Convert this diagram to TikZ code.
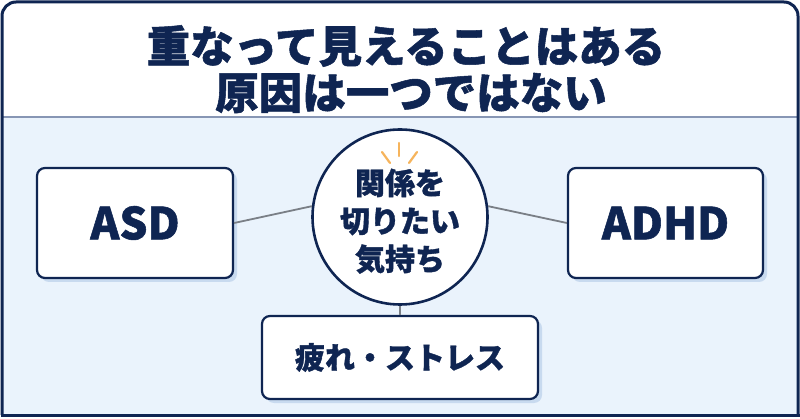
\documentclass[tikz,border=0pt]{standalone}
\usepackage{fontspec}
\setmainfont{Noto Sans CJK JP}[BoldFeatures={FakeBold=1.2}]
\usepackage{tikz}
\usetikzlibrary{positioning,shadows}
\definecolor{pnavy}{HTML}{0F2552}
\definecolor{pbody}{HTML}{EAF3FC}
\definecolor{pshade}{HTML}{C8DAEF}
\definecolor{pline}{HTML}{7A7F86}
\definecolor{prule}{HTML}{8796B4}
\definecolor{pspark}{HTML}{F6B45C}

\begin{document}
\begin{tikzpicture}[x=1pt,y=-1pt,
  card/.style={draw=pnavy,fill=white,line width=2.2pt,rounded corners=8pt,
    text=pnavy,font=\bfseries,
    drop shadow={shadow xshift=4pt,shadow yshift=-4pt,fill=pshade,opacity=1}},
  hubring/.style={circle,draw=pnavy,fill=white,line width=2.6pt,minimum size=175pt,
    align=center,text=pnavy,font=\fontsize{30}{38}\selectfont\bfseries},
  heading/.style={text=pnavy,font=\fontsize{43.5}{50}\selectfont\bfseries},
  link/.style={pline,line width=1.8pt},
  spark/.style={pspark,line width=2.2pt,line cap=round}]

\useasboundingbox (0,0) rectangle (800,419);

% ---- frame: white header, light body -----------------------------------
\fill[pbody] (2,117) rectangle (798,415);
\fill[white,rounded corners=14pt] (2,117) -- (2,2) -- (798,2) -- (798,117) -- cycle;
\draw[prule,line width=1.6pt] (2,117) -- (798,117);
\draw[pnavy,line width=3pt,rounded corners=14pt] (2,415) -- (2,2) -- (798,2) -- (798,415);
\draw[pnavy,line width=3pt] (0.5,415) -- (799.5,415);

% ---- heading -----------------------------------------------------------
\node[heading] (h1) at (406,46) {重なって見えることはある};
\node[heading] (h2) at (411,93) {原因は一つではない};

% ---- the hub and its three causes --------------------------------------
\node[hubring] (hub) at (400,217) {\\[-4pt]関係を\\切りたい\\気持ち};
\node[card,minimum width=196pt,minimum height=110pt,
  font=\fontsize{44}{44}\selectfont\bfseries] (asd)  at (135,223) {ASD};
\node[card,minimum width=195pt,minimum height=110pt,
  font=\fontsize{44}{44}\selectfont\bfseries] (adhd) at (665.5,223) {ADHD};
\node[card,minimum width=276pt,minimum height=83pt,
  font=\fontsize{30}{30}\selectfont\bfseries] (strs) at (400,357.5) {疲れ・ストレス};

% ---- the links ---------------------------------------------------------
\draw[link] (asd.east) -- (hub.173);
\draw[link] (hub.7) -- (adhd.west);
\draw[link] (hub.south) -- (strs.north);

% ---- spark above the hub text ------------------------------------------
\draw[spark] (382,152) -- (390,163);
\draw[spark] (399,143) -- (399,156);
\draw[spark] (417,152) -- (409,163);
\end{tikzpicture}
\end{document}
